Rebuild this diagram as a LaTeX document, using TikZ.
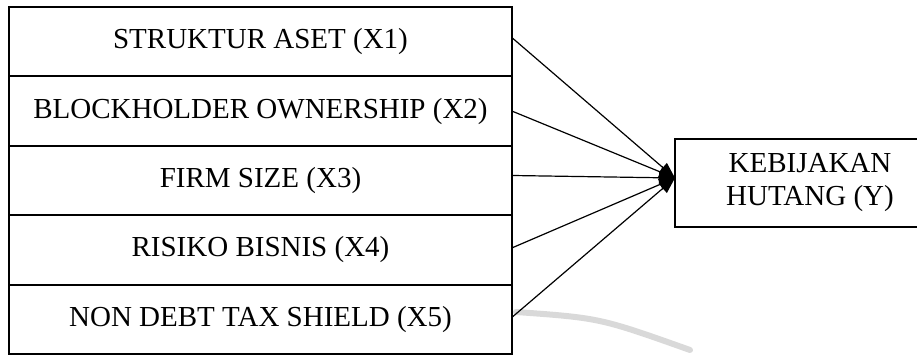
\documentclass[tikz,border=0pt]{standalone}
\usepackage{fontspec}
\setmainfont{Liberation Serif}
\usetikzlibrary{positioning,arrows.meta}
\tikzset{
  varbox/.style={draw,line width=1pt,outer sep=0pt,inner sep=0pt,
    minimum width=251.5pt,minimum height=34.7pt,
    font=\fontsize{14.5}{16.5}\selectfont},
  ybox/.style={draw,line width=1pt,outer sep=0pt,inner sep=0pt,align=center,
    minimum width=135pt,minimum height=44pt,
    font=\fontsize{14.5}{16.5}\selectfont},
  link/.style={line width=0.6pt,-{Triangle[length=8pt,width=6pt]}}
}
\begin{document}
\begin{tikzpicture}[x=0.5pt,y=-0.5pt]
  \useasboundingbox (0,0) rectangle (917,356);
  % watermark swoosh
  \draw[gray!30,line width=3pt,line cap=round] (516,312) .. controls (600,318) .. (690,350);
  % independent variables
  \node[varbox,anchor=north west] (x1) at (9,7) {STRUKTUR ASET (X1)};
  \node[varbox,below=0pt of x1] (x2) {BLOCKHOLDER OWNERSHIP (X2)};
  \node[varbox,below=0pt of x2] (x3) {FIRM SIZE (X3)};
  \node[varbox,below=0pt of x3] (x4) {RISIKO BISNIS (X4)};
  \node[varbox,below=0pt of x4] (x5) {NON DEBT TAX SHIELD (X5)};
  % dependent variable
  \node[ybox,anchor=north west] (y) at (675,139) {KEBIJAKAN\\HUTANG (Y)};
  \coordinate (tip) at ([yshift=2.5pt]y.west);
  \draw[link] ([yshift=2pt]x1.east) -- (tip);
  \draw[link] ([yshift=0pt]x2.east) -- (tip);
  \draw[link] ([yshift=2.5pt]x3.east) -- (tip);
  \draw[link] ([yshift=1pt]x4.east) -- (tip);
  \draw[link] ([yshift=1pt]x5.east) -- (tip);
\end{tikzpicture}
\end{document}
